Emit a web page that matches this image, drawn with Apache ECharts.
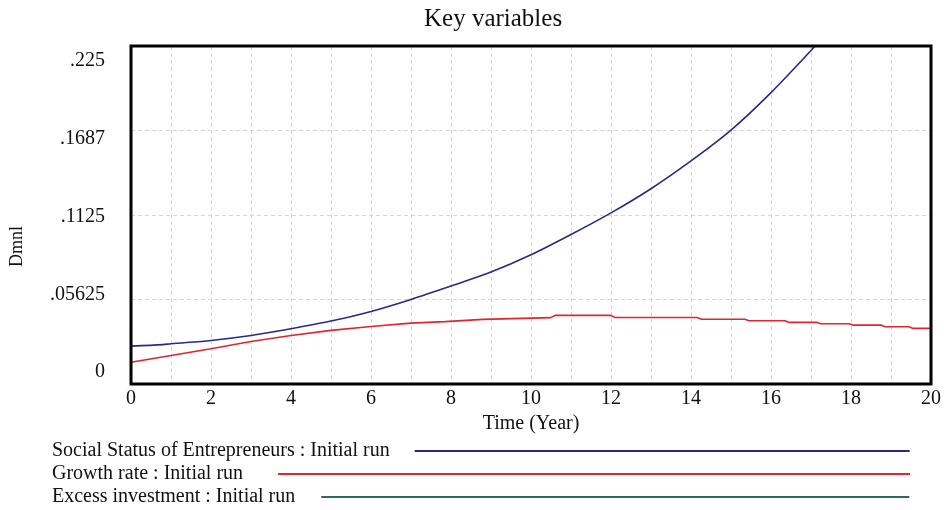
<!DOCTYPE html>
<html>
<head>
<meta charset="utf-8">
<script src="https://cdn.jsdelivr.net/npm/echarts@6/dist/echarts.min.js"></script>
<style>
html,body{margin:0;padding:0;background:#fff;}
#chart{width:944px;height:510px;}
</style>
</head>
<body>
<div id="chart"></div>
<script>
// ---- data ----
const seriesNames = ['Social Status of Entrepreneurs : Initial run', 'Growth rate : Initial run', 'Excess investment : Initial run'];
const socialStatus = [[0,0.0252],[0.8,0.0262],[1,0.0268],[2,0.029],[3,0.0323],[4,0.0368],[5,0.0419],[6,0.0483],[7,0.0563],[8,0.0652],[9,0.0745],[10,0.086],[11,0.0995],[12,0.1139],[13,0.130],[14,0.1485],[15,0.169],[16,0.194],[17,0.222],[17.3,0.231]];
const growthRate = [[0,0.0145],[1,0.019],[2,0.0235],[3,0.0283],[4,0.0323],[5,0.0357],[6,0.0383],[7,0.0405],[7.85,0.0415],[7.9,0.0428],[8.8,0.043],[8.85,0.0441],[10.5,0.0442],[10.6,0.0457],[12.0,0.0457],[12.1,0.0443],[14.15,0.0443],[14.25,0.0432],[15.35,0.0431],[15.45,0.0421],[16.35,0.0421],[16.45,0.041],[17.15,0.041],[17.25,0.0401],[17.95,0.0401],[18.05,0.0392],[18.75,0.0392],[18.85,0.0381],[19.45,0.0381],[19.55,0.037],[20,0.037]];
const excessInvestment = [[0,0],[20,0]];
const yTickLabels = ['0', '.05625', '.1125', '.1687', '.225'];
const xTickLabels = ['0','2','4','6','8','10','12','14','16','18','20'];
const yUnit = 'Dmnl';
const xName = 'Time (Year)';
const titleText = 'Key variables';

const colors = ['#2a2a85', '#dc2630', '#2f6a55'];
const serif = '"Liberation Serif", "Times New Roman", serif';

const chart = echarts.init(document.getElementById('chart'));
const yStep = 0.05625;
const gridStyle = {color: '#d4d5dd', width: 1, type: [4, 3]};

function legendRow(name, top, width, pad) {
  return {data: [name], left: 52, top: top, align: 'right', icon: 'rect', itemWidth: width, itemHeight: 2,
    selectedMode: false, padding: 0,
    textStyle: {fontFamily: serif, fontSize: 20, color: '#111', padding: [0, pad, 0, 0]}};
}

chart.setOption({
  animation: false,
  backgroundColor: '#fff',
  title: {
    text: titleText, left: 419, top: 2,
    textStyle: {fontFamily: serif, fontSize: 25, fontWeight: 'normal', color: '#111'}
  },
  graphic: [{
    type: 'text', left: 8, top: 226, rotation: Math.PI / 2,
    style: {text: yUnit, font: '18px ' + serif, fill: '#111'}
  }],
  grid: [
    {left: 131, right: 7, top: 46, bottom: 126, show: true, borderColor: '#000', borderWidth: 3, backgroundColor: 'transparent', z: 5},
    {left: 131, right: 7, top: 61, bottom: 138, show: false}
  ],
  legend: [
    legendRow(seriesNames[0], 441, 495, 20),
    legendRow(seriesNames[1], 464, 632, 30),
    legendRow(seriesNames[2], 487, 588, 21)
  ],
  xAxis: [{
    type: 'value', min: 0, max: 20, interval: 1,
    name: xName, nameLocation: 'middle', nameGap: 26,
    nameTextStyle: {fontFamily: serif, fontSize: 20, color: '#111'},
    axisLine: {show: false}, axisTick: {show: false},
    axisLabel: {fontFamily: serif, fontSize: 20, color: '#111', margin: 5,
      formatter: v => (v % 2 === 0 ? xTickLabels[v / 2] : '')},
    splitLine: {show: true, lineStyle: gridStyle}
  }, {
    gridIndex: 1, type: 'value', min: 0, max: 1, show: false
  }],
  yAxis: [{
    type: 'value', min: 0, max: 0.225, interval: yStep,
    axisLine: {show: false}, axisTick: {show: false}, axisLabel: {show: false},
    splitLine: {show: true, lineStyle: gridStyle}
  }, {
    gridIndex: 1, type: 'value', min: 0, max: 0.225, interval: yStep,
    axisLine: {show: false}, axisTick: {show: false}, splitLine: {show: false},
    axisLabel: {fontFamily: serif, fontSize: 20, color: '#111', margin: 26,
      formatter: v => yTickLabels[Math.round(v / yStep)]}
  }],
  series: [
    {name: seriesNames[2], type: 'line', data: excessInvestment, showSymbol: false, z: 1,
      lineStyle: {color: colors[2], width: 1.5}, itemStyle: {color: colors[2]}},
    {name: seriesNames[1], type: 'line', data: growthRate, showSymbol: false, clip: true,
      lineStyle: {color: colors[1], width: 1.6}, itemStyle: {color: colors[1]}},
    {name: seriesNames[0], type: 'line', data: socialStatus, showSymbol: false, smooth: 0.3, clip: true,
      lineStyle: {color: colors[0], width: 1.6}, itemStyle: {color: colors[0]}}
  ]
});
</script>
</body>
</html>
